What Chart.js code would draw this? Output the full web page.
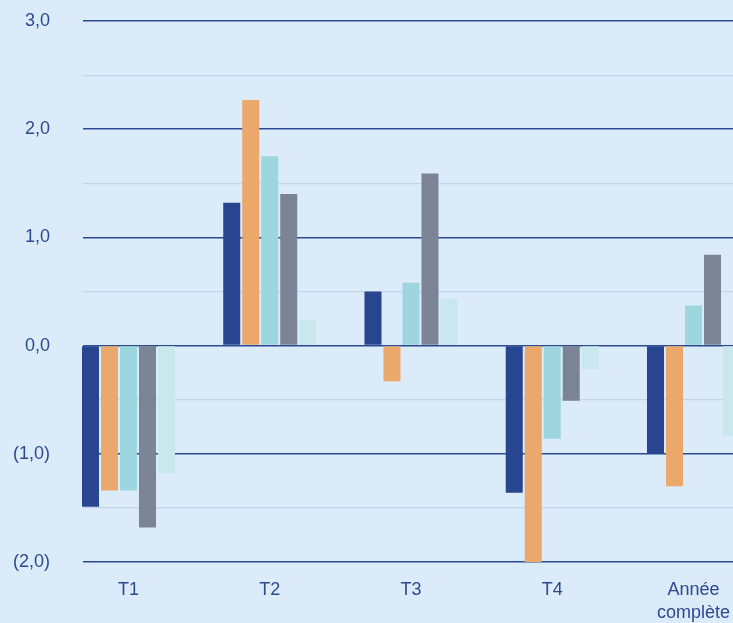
<!DOCTYPE html>
<html>
<head>
<meta charset="utf-8">
<script src="https://cdn.jsdelivr.net/npm/chart.js@4/dist/chart.umd.min.js"></script>
<style>
  html, body { margin: 0; padding: 0; background: #dbebf9; overflow: hidden; }
  #wrap { width: 800px; height: 623px; }
</style>
</head>
<body>
<div id="wrap"><canvas id="chart"></canvas></div>
<script>
// categories (quarters + full year)
const categories = ['T1', 'T2', 'T3', 'T4', ['Année', 'complète']];

// five series, one value per category
const series1 = [-1.49, 1.32, 0.50, -1.36, -1.00];
const series2 = [-1.34, 2.27, -0.33, -2.00, -1.30];
const series3 = [-1.34, 1.75, 0.58, -0.86, 0.37];
const series4 = [-1.68, 1.40, 1.59, -0.51, 0.84];
const series5 = [-1.18, 0.24, 0.43, -0.22, -0.84];

const yTicks = [-2, -1.5, -1, -0.5, 0, 0.5, 1, 1.5, 2, 2.5, 3];

const colors = ['#27468f', '#eba86b', '#9dd6df', '#7b8494', '#c9e8ed'];

const textColor = '#2d4a8e';
const font = { family: '"Liberation Sans", Arial, sans-serif', size: 18, lineHeight: 1.3 };

function fmt(v) {
  const s = Math.abs(v).toFixed(1).replace('.', ',');
  return v < 0 ? '(' + s + ')' : s;
}

const datasets = [series1, series2, series3, series4, series5].map((vals, k) => ({
  data: vals.map((v, i) => ({ x: i, y: v })),
  backgroundColor: colors[k],
  borderWidth: 0,
  categoryPercentage: 0.6726,
  barPercentage: 0.895,
  clip: false
}));

new Chart(document.getElementById('chart'), {
  type: 'bar',
  data: { datasets },
  options: {
    responsive: true,
    maintainAspectRatio: false,
    animation: false,
    layout: { padding: { top: 21, left: 0, right: 0, bottom: 0 } },
    plugins: { legend: { display: false }, tooltip: { enabled: false } },
    scales: {
      x: {
        type: 'linear',
        offset: false,
        min: -0.322,
        max: 4.754,
        afterBuildTicks: scale => { scale.ticks = categories.map((c, i) => ({ value: i })); },
        afterFit: scale => { scale.height = 61; },
        ticks: {
          color: textColor,
          font,
          padding: 16,
          maxRotation: 0,
          autoSkip: false,
          callback: v => categories[v]
        },
        grid: { display: false, drawTicks: false, offset: false },
        border: { display: false }
      },
      y: {
        min: -2,
        max: 3,
        afterBuildTicks: scale => { scale.ticks = yTicks.map(v => ({ value: v })); },
        afterFit: scale => {
          scale.width = 83;
          scale.paddingTop = 0;
          scale.paddingBottom = 0;
        },
        ticks: {
          color: textColor,
          font,
          padding: 33,
          callback: v => Number.isInteger(v) ? fmt(v) : ''
        },
        grid: {
          drawTicks: false,
          color: c => Number.isInteger(c.tick.value) ? '#2b4a93' : '#c6d3e8',
          lineWidth: c => Number.isInteger(c.tick.value) ? 1.5 : 1.2
        },
        border: { display: false }
      }
    }
  }
});
</script>
</body>
</html>
